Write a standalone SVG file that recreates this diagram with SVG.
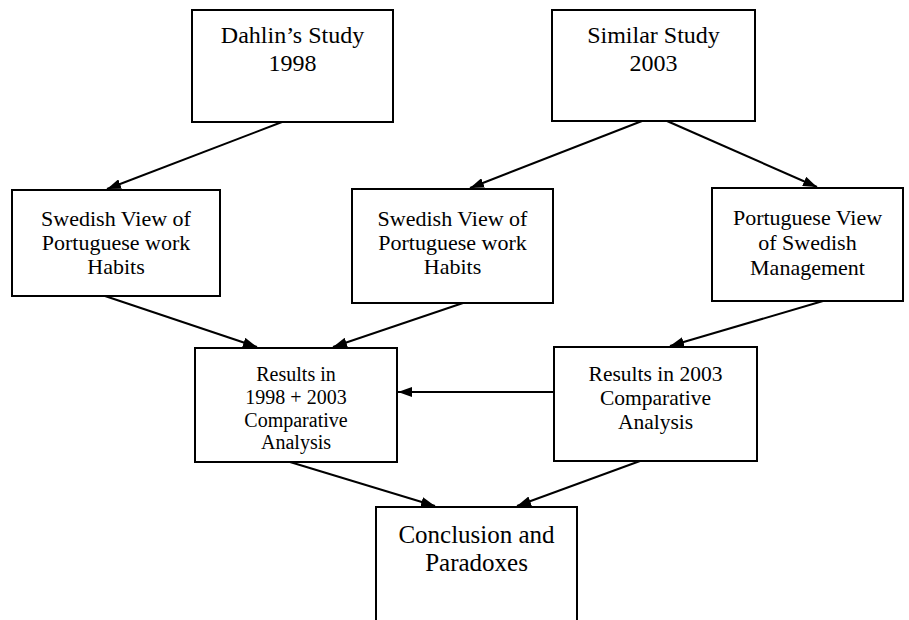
<svg xmlns="http://www.w3.org/2000/svg" width="909" height="620" viewBox="0 0 909 620">
<style>
.box{fill:#fff;stroke:#000;stroke-width:2}
.t{font-family:'Liberation Serif','DejaVu Serif',serif;fill:#000;text-anchor:middle}
.c{stroke:#000;stroke-width:2;fill:none;marker-end:url(#ah)}
</style>
<defs>
<marker id="ah" viewBox="0 0 14 10" refX="14" refY="5" markerWidth="14" markerHeight="10" markerUnits="userSpaceOnUse" orient="auto">
<path d="M0,0 L14,5 L0,10 z" fill="#000"/>
</marker>
</defs>
<rect width="909" height="620" fill="#fff"/>
<g id="n1">
<rect class="box" x="192" y="10" width="201" height="112"/>
<text class="t" font-size="24" x="292.5" y="43">Dahlin’s Study</text>
<text class="t" font-size="24" x="292.5" y="71">1998</text>
</g>
<g id="n2">
<rect class="box" x="552" y="10" width="203" height="111"/>
<text class="t" font-size="24" x="653.5" y="43">Similar Study</text>
<text class="t" font-size="24" x="653.5" y="71">2003</text>
</g>
<g id="n3">
<rect class="box" x="12" y="190" width="208" height="106"/>
<text class="t" font-size="22" x="116" y="226">Swedish View of</text>
<text class="t" font-size="22" x="116" y="250">Portuguese work</text>
<text class="t" font-size="22" x="116" y="274">Habits</text>
</g>
<g id="n4">
<rect class="box" x="352" y="189" width="201" height="114"/>
<text class="t" font-size="22" x="452.5" y="226">Swedish View of</text>
<text class="t" font-size="22" x="452.5" y="250">Portuguese work</text>
<text class="t" font-size="22" x="452.5" y="274">Habits</text>
</g>
<g id="n5">
<rect class="box" x="712" y="188" width="191" height="113"/>
<text class="t" font-size="22" x="807.5" y="225">Portuguese View</text>
<text class="t" font-size="22" x="807.5" y="250">of Swedish</text>
<text class="t" font-size="22" x="807.5" y="275">Management</text>
</g>
<g id="n6">
<rect class="box" x="195" y="348" width="202" height="114"/>
<text class="t" font-size="20" x="296" y="381">Results in</text>
<text class="t" font-size="20" x="296" y="404">1998 + 2003</text>
<text class="t" font-size="20" x="296" y="427">Comparative</text>
<text class="t" font-size="20" x="296" y="449">Analysis</text>
</g>
<g id="n7">
<rect class="box" x="554" y="347" width="203" height="114"/>
<text class="t" font-size="21.5" x="655.5" y="381">Results in 2003</text>
<text class="t" font-size="21.5" x="655.5" y="405">Comparative</text>
<text class="t" font-size="21.5" x="655.5" y="429">Analysis</text>
</g>
<g id="n8">
<path d="M376,625 V507 H577 V625" fill="#fff" stroke="#000" stroke-width="2"/>
<text class="t" font-size="25" x="476.5" y="543">Conclusion and</text>
<text class="t" font-size="25" x="476.5" y="571">Paradoxes</text>
</g>
<g id="connectors">
<line class="c" x1="282" y1="122" x2="107" y2="189"/>
<line class="c" x1="642" y1="121" x2="470" y2="188"/>
<line class="c" x1="667" y1="121" x2="817" y2="187"/>
<line class="c" x1="105" y1="296" x2="257" y2="347"/>
<line class="c" x1="463" y1="303" x2="333" y2="347"/>
<line class="c" x1="823" y1="301" x2="670" y2="346"/>
<line class="c" x1="554" y1="392" x2="398" y2="392"/>
<line class="c" x1="290" y1="462" x2="435" y2="506"/>
<line class="c" x1="640" y1="461" x2="517" y2="506"/>
</g>
</svg>
